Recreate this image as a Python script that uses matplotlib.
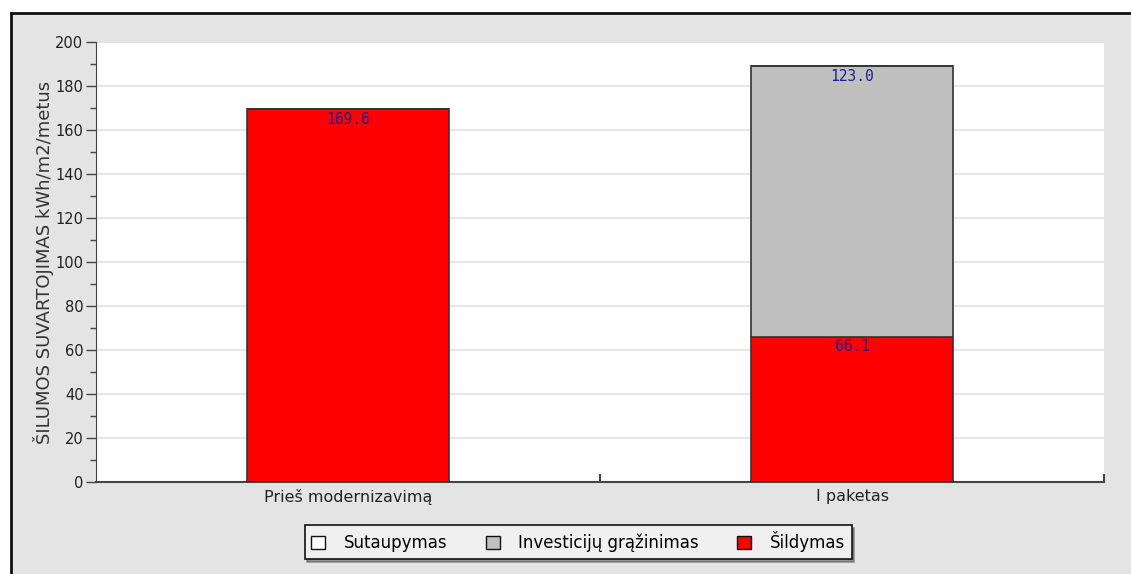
import numpy as np
import matplotlib.pyplot as plt
from matplotlib.patches import Rectangle

categories = ['Prieš modernizavimą', 'I paketas']
sildymas = [169.6, 66.1]
investicijos = [0.0, 123.0]
sutaupymas = [0.0, 0.0]

series_names = ['Sutaupymas', 'Investicijų grąžinimas', 'Šildymas']
series_colors = ['#ffffff', '#c0c0c0', '#ff0000']

W, H = 1131, 574
fig = plt.figure(figsize=(W / 100, H / 100), dpi=100, facecolor='white')

# grey panel with black top/left border
fig.patches.append(Rectangle((11 / W, 0), 1 - 11 / W, 1 - 13 / H,
                             transform=fig.transFigure, facecolor='#e4e4e4',
                             edgecolor='none', zorder=-10))
fig.add_artist(plt.Line2D([11 / W, 1], [1 - 13 / H, 1 - 13 / H], transform=fig.transFigure,
                          color='#111111', lw=2, zorder=-5))
fig.add_artist(plt.Line2D([11 / W, 11 / W], [0, 1 - 13 / H], transform=fig.transFigure,
                          color='#111111', lw=2, zorder=-5))

ax = fig.add_axes([96 / W, (H - 482) / H, (1104 - 96) / W, (482 - 42) / H])
ax.set_zorder(1)
ax.set_facecolor('white')

x = np.arange(len(categories))
width = 0.4

# stacked: sildymas at bottom, then investicijos, then sutaupymas
bottom = np.zeros(len(categories))
for vals, col in [(sildymas, series_colors[2]), (investicijos, series_colors[1]),
                  (sutaupymas, series_colors[0])]:
    vals = np.array(vals)
    ax.bar(x, vals, width, bottom=bottom, color=col, edgecolor='#333333', lw=1.2, zorder=3)
    for xi, v, b in zip(x, vals, bottom):
        if v > 0:
            ax.annotate(f'{v:.1f}', (xi, b + v), xytext=(0, -2), textcoords='offset points',
                        ha='center', va='top', family='DejaVu Sans Mono', fontsize=10.5,
                        color='#1c1c90', zorder=4)
    bottom = bottom + vals

ax.set_xlim(-0.5, 1.5)
ax.set_ylim(0, 200)
ax.set_yticks(np.arange(0, 201, 20))
ax.set_yticks(np.arange(10, 200, 20), minor=True)
ax.yaxis.grid(True, color='#e2e2e2', lw=1.2, zorder=0)
ax.set_axisbelow(True)

ax.set_xticks(x)
ax.set_xticklabels(categories, fontsize=11.5, color='#222222')
ax.tick_params(axis='x', which='major', length=0, pad=5)
ax.set_xticks([0.5, 1.5], minor=True)
ax.tick_params(axis='x', which='minor', direction='in', length=6, width=1.5, color='#444444')
ax.tick_params(axis='y', which='major', length=7, width=1, color='#444444',
               labelsize=10.5, labelcolor='#222222', pad=2)
ax.tick_params(axis='y', which='minor', length=4, width=1, color='#444444')

for s in ['top', 'right']:
    ax.spines[s].set_visible(False)
ax.spines['left'].set_color('#444444')
ax.spines['bottom'].set_color('#444444')
ax.spines['bottom'].set_linewidth(1.5)

ax.set_ylabel('ŠILUMOS SUVARTOJIMAS kWh/m2/metus', fontsize=13, color='#333333', labelpad=1)

handles = [Rectangle((0, 0), 1, 1, facecolor=c, edgecolor='#111111', lw=1) for c in series_colors]
leg = fig.legend(handles, series_names, loc='center', bbox_to_anchor=(578 / W, 1 - 542 / H),
                 ncol=3, fontsize=12, fancybox=False, shadow=True, frameon=True,
                 handlelength=0.85, handleheight=0.85, columnspacing=2.3, handletextpad=1.1,
                 borderpad=0.4)
leg.get_frame().set_edgecolor('#111111')
leg.get_frame().set_facecolor('#f0f0f0')
leg.get_frame().set_linewidth(1.2)

fig.savefig('out.png', dpi=100, facecolor=fig.get_facecolor())
